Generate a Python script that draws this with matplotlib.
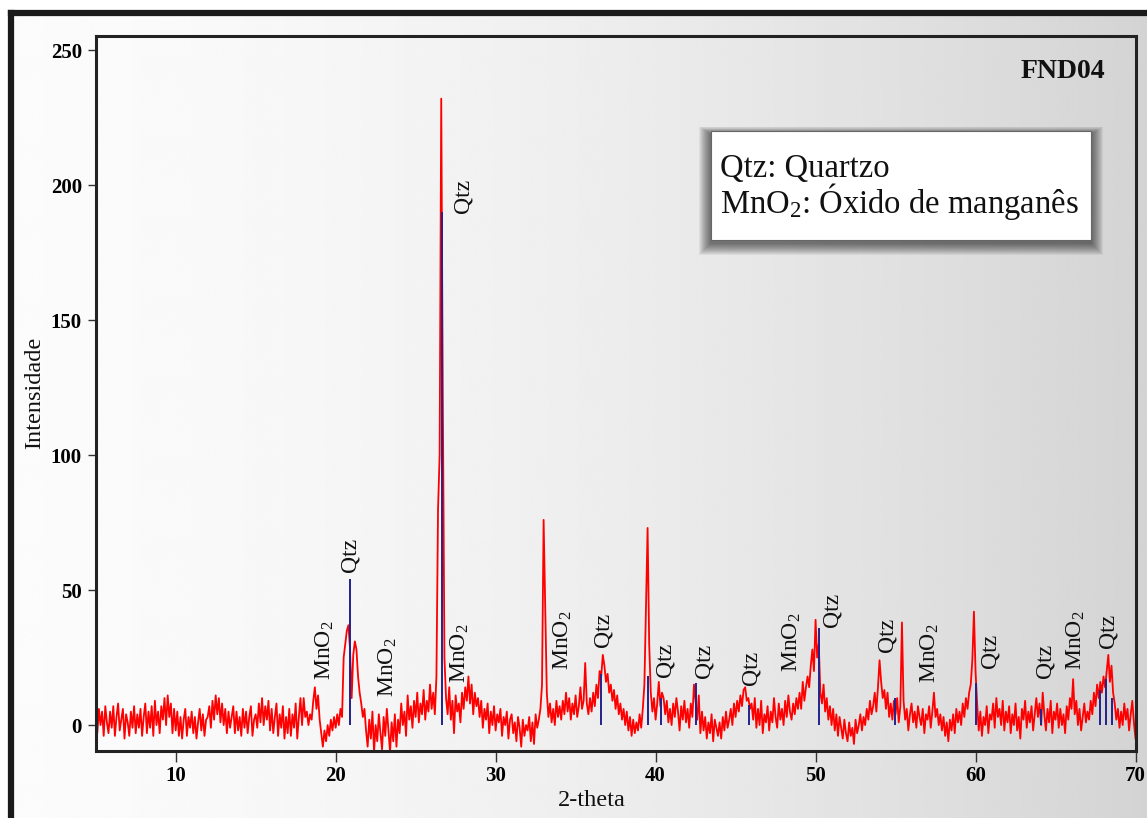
import numpy as np
import matplotlib
matplotlib.use("Agg")
import matplotlib.pyplot as plt
from matplotlib.patches import Rectangle
from matplotlib.lines import Line2D

plt.rcParams['font.family'] = ['Liberation Serif', 'DejaVu Serif']
plt.rcParams['mathtext.fontset'] = 'custom'
plt.rcParams['mathtext.rm'] = 'Liberation Serif'
plt.rcParams['mathtext.it'] = 'Liberation Serif:italic'
plt.rcParams['mathtext.bf'] = 'Liberation Serif:bold'

# ---------------- data ----------------
theta_start, theta_step = 5.0, 0.1
intensity = [
    3, -3, 6, 0, 5, -4, 7, 1, -3, 5,
    -1, 7, -4, 3, 8, -2, 2, 6, -5, 4,
    1, -4, 5, -1, 7, -3, 4, -1, 6, -4,
    3, 8, -3, 5, -1, 7, -4, 9, 0, 5,
    -3, 7, 2, 10, 0, 11, 3, 8, -3, 6,
    -2, 5, -4, 3, -5, 2, 6, -4, 3, -1,
    5, -3, 3, -5, 1, 6, -2, 4, -4, 2,
    3, 7, -1, 9, 2, 11, 4, 10, 1, 8,
    0, 6, -3, 5, -1, 3, 7, -3, 5, -2,
    3, -4, 6, -1, 5, -3, 3, 7, -4, 2,
    4, -1, 8, 1, 10, 0, 7, 2, 9, -2,
    6, -3, 3, 8, -4, 4, -1, 7, -5, 3,
    -3, 6, -4, 4, -1, 8, -5, 3, 10, 0,
    10, 3, 5, 0, 4, 2, 9, 14, 6, 11,
    2, -3, -8, -2, -6, 0, -4, 2, -2, 3,
    -1, 4, 0, 6, 3, 25, 30, 35, 37, 28,
    10, 26, 31, 28, 18, 12, 8, 3, 6, -2,
    -8, 2, -5, 5, -10, 0, -6, 4, -3, -9,
    3, -4, 6, -2, -10, 1, -6, 4, -8, 2,
    -3, 8, 0, 5, -4, 11, 2, 7, -1, 9,
    3, 12, 1, 8, 4, 13, 2, 9, 5, 15,
    6, 12, 4, 18, 80, 100, 232, 120, 25, 10,
    4, 14, 2, 9, -3, 11, 5, 8, 1, 12,
    6, 14, 9, 18, 8, 15, 4, 12, 7, 10,
    3, 9, -1, 6, 2, 8, -3, 5, 0, 7,
    -2, 4, 1, 6, -4, 3, 0, 5, -5, 2,
    4, -3, 1, -6, 3, -1, -8, 2, -4, 0,
    -2, 3, -6, 1, -7, 4, -1, 2, 6, 15,
    76, 45, 12, 3, 8, 1, 6, 0, 9, 3,
    7, 2, 9, 4, 12, 5, 10, 2, 8, 4,
    11, 3, 7, 14, 6, 9, 23, 8, 4, 10,
    5, 12, 7, 15, 10, 20, 18, 26, 22, 16,
    19, 12, 15, 9, 13, 6, 11, 4, 8, 2,
    6, 0, 5, -2, 3, -4, 2, -3, 1, -2,
    4, -1, 6, 15, 45, 73, 30, 12, 5, 10,
    2, 8, 16, 7, 12, 10, 4, 9, 1, 6,
    0, 8, 3, 10, 5, -2, 7, 2, 9, 1,
    6, -1, 8, 3, 15, 9, 2, 11, -3, 5,
    -2, 3, -5, 1, -3, 4, -6, 2, -1, -4,
    1, -5, 3, -2, 5, -1, 2, 6, 0, 8,
    3, 9, 5, 11, 7, 13, 14, 9, 10, 6,
    8, 2, 10, -1, 6, 0, 9, -3, 4, 1,
    7, -2, 5, 1, 10, 3, -1, 8, 2, 6,
    0, 9, 3, 11, 5, 2, 8, 4, 10, 6,
    12, 6, 16, 9, 14, 18, 14, 22, 28, 20,
    39, 25, 30, 12, 8, 15, 5, 10, 2, 7,
    0, 6, -2, 4, -4, 3, -1, -5, 2, -3,
    -6, 1, -4, -1, -7, 2, -3, 0, 4, -2,
    3, 0, 6, 2, 9, 4, 7, 12, 5, 14,
    24, 16, 10, 13, 6, 12, 3, 8, 2, 9,
    4, 10, 1, 7, 38, 9, 2, 6, -2, 4,
    8, 1, 5, -1, 7, 3, 0, 6, -3, 4,
    2, 7, -1, 5, 12, 3, 6, 0, 4, -2,
    3, -4, 1, -6, 2, -2, 4, -3, 6, 1,
    5, 0, 8, 3, 10, 6, 12, 15, 24, 42,
    20, 8, -2, 5, -4, 3, 0, 7, -3, 4,
    2, 8, -1, 10, 3, 6, 0, 9, -2, 5,
    1, 7, -3, 4, 0, 8, -2, 3, -5, 6,
    2, 9, -1, 5, 1, 7, -2, 4, 10, 3,
    8, 0, 12, 4, -2, 6, 1, 9, -3, 5,
    2, 8, -1, 6, 0, 4, -3, 7, 2, 10,
    6, 17, 4, 9, 0, 6, -2, 3, 8, 1,
    5, 2, 9, 4, 12, 7, 15, 10, 16, 12,
    18, 14, 20, 26, 16, 22, 12, 8, 2, 6,
    -1, 5, 0, 8, 2, 6, -2, 4, 9, 1,
    -5,
]

qtz_ref_pos = [20.9, 26.65, 36.6, 39.5, 40.35, 42.5, 45.85, 50.2, 54.95,
               60.05, 64.1, 67.8, 68.15, 68.5]
qtz_ref_int = [54, 190, 19, 18, 10, 15.5, 7.5, 36, 10, 15.5, 6, 13, 17, 10]

peak_label_text = ['MnO$_2$', 'Qtz', 'MnO$_2$', 'Qtz', 'MnO$_2$', 'MnO$_2$',
                   'Qtz', 'Qtz', 'Qtz', 'Qtz', 'MnO$_2$', 'Qtz', 'Qtz',
                   'MnO$_2$', 'Qtz', 'Qtz', 'MnO$_2$', 'Qtz']
peak_label_x = [19.33, 20.9, 23.27, 27.95, 27.77, 34.2, 36.7, 40.58, 43.0,
                45.95, 48.5, 51.0, 54.45, 57.14, 60.9, 64.33, 66.3, 68.25]
peak_label_y = [16.7, 56.7, 10.4, 189.6, 15.6, 20.4, 28.9, 17.8, 17.4,
                14.8, 19.6, 36.3, 27.0, 15.6, 21.1, 17.4, 20.4, 28.5]

x_ticks = [10, 20, 30, 40, 50, 60, 70]
y_ticks = [0, 50, 100, 150, 200, 250]

two_theta = theta_start + theta_step * np.arange(len(intensity))

# ---------------- figure ----------------
W, H = 1147, 818
fig = plt.figure(figsize=(W / 100, H / 100), dpi=100, facecolor='white')

# gradient background inside the frame
fl, ft = 11 / W, 1 - 13 / H
bg = fig.add_axes([fl, 0, 1 - fl, ft], zorder=-10)
grad = np.clip(0.985 - (0.985 - 0.83) * np.linspace(0, 1, 400) ** 1.6, 0, 1)
img = np.tile(grad, (10, 1))
bg.imshow(img, cmap='gray', vmin=0, vmax=1, aspect='auto',
          extent=[0, 1, 0, 1], interpolation='bicubic')
bg.set_axis_off()

# black frame (top and left visible)
fig.add_artist(Line2D([fl, 1.01], [ft, ft], transform=fig.transFigure,
                      color='#1a1a1a', lw=4.5, solid_capstyle='projecting'))
fig.add_artist(Line2D([fl, fl], [-0.01, ft], transform=fig.transFigure,
                      color='#1a1a1a', lw=4.5, solid_capstyle='projecting'))

ax_l, ax_r = 95.7 / W, 1135.5 / W
ax_b, ax_t = (H - 751) / H, (H - 36) / H
ax = fig.add_axes([ax_l, ax_b, ax_r - ax_l, ax_t - ax_b])
ax.patch.set_alpha(0)

ax.plot(two_theta, intensity, color='#ff0000', lw=1.3, zorder=2)
ax.vlines(qtz_ref_pos, 0, qtz_ref_int, color='#22228c', lw=1.4, zorder=3)

for t, xx, yy in zip(peak_label_text, peak_label_x, peak_label_y):
    ax.text(xx, yy, t, rotation=90, ha='center', va='bottom', fontsize=17,
            color='#111111', zorder=4)

ax.set_xlim(5, 70)
ax.set_ylim(-9.6, 255.2)
ax.set_xticks(x_ticks)
ax.set_yticks(y_ticks)
ax.set_xticklabels([str(v) for v in x_ticks], fontweight='bold', fontsize=15)
ax.set_yticklabels([str(v) for v in y_ticks], fontweight='bold', fontsize=15)
ax.tick_params(axis='x', direction='out', length=8, width=1, pad=3,
               color='#333333')
ax.tick_params(axis='y', direction='out', length=6, width=1, pad=4,
               color='#333333')
for s in ax.spines.values():
    s.set_linewidth(2.2)
    s.set_color('#222222')

fig.text(592 / W, 1 - 800 / H, '2-theta', ha='center', va='center',
         fontsize=17.5, color='#111111')
fig.text(35 / W, 1 - 393 / H, 'Intensidade', ha='center', va='center',
         rotation=90, fontsize=17.5, color='#111111')
fig.text(1105 / W, 1 - 71 / H, 'FND04', ha='right', va='center',
         fontsize=20, fontweight='bold', color='#111111')

# legend box with soft shadow
bx0, by0, bx1, by1 = 711, 131, 1091, 240
for i in range(12, 0, -1):
    pad = i * 1.0
    fig.add_artist(Rectangle(((bx0 - pad) / W, 1 - (by1 + pad + 3) / H),
                             (bx1 - bx0 + 2 * pad) / W,
                             (by1 - by0 + 1.6 * pad) / H,
                             transform=fig.transFigure, facecolor='black',
                             edgecolor='none', alpha=0.055, zorder=5))
fig.add_artist(Rectangle((bx0 / W, 1 - by1 / H), (bx1 - bx0) / W,
                         (by1 - by0) / H, transform=fig.transFigure,
                         facecolor='white', edgecolor='#666666', lw=0.8,
                         zorder=6))
fig.text(720 / W, 1 - 177 / H, 'Qtz: Quartzo', ha='left', va='baseline',
         fontsize=23.5, color='#111111', zorder=7)
fig.text(720 / W, 1 - 213 / H, 'MnO$_2$: Óxido de manganês', ha='left',
         va='baseline', fontsize=23.5, color='#111111', zorder=7)

fig.savefig('out.png', dpi=100, facecolor='white')
